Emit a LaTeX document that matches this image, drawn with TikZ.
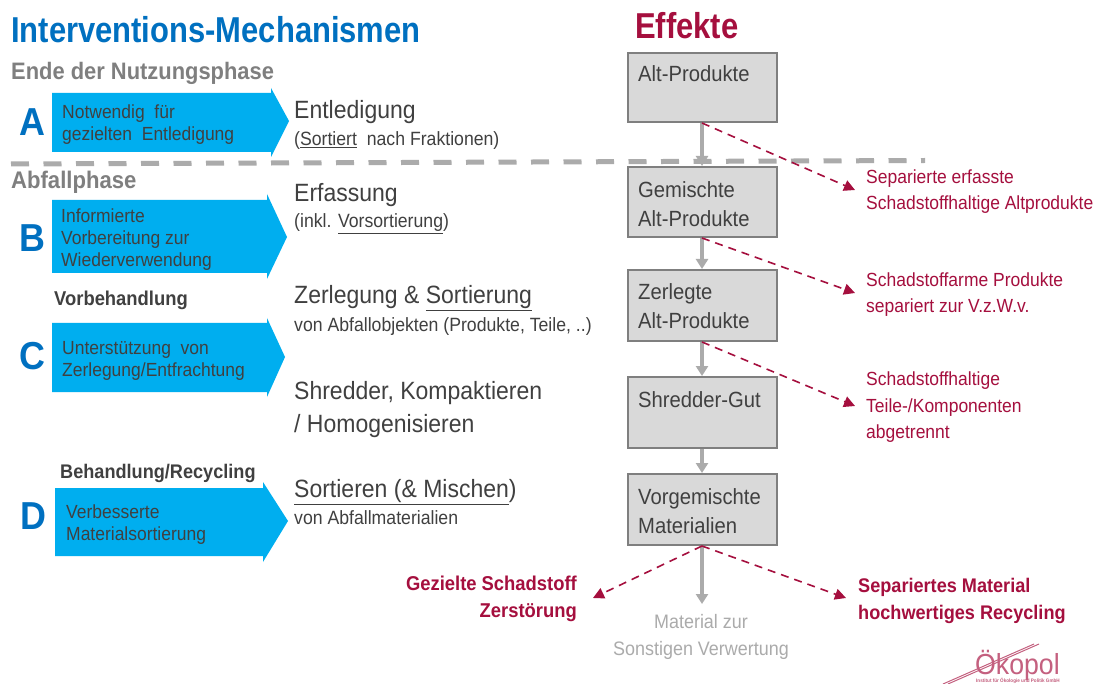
\documentclass[tikz,border=0pt]{standalone}
\usepackage{fontspec}
\setmainfont[FakeStretch=0.92]{Liberation Sans}
\newfontfamily\ttlfont[FakeStretch=0.86]{Liberation Sans}
\usetikzlibrary{arrows.meta}
\definecolor{cblue}{HTML}{00AEEF}
\definecolor{tblue}{HTML}{0070C0}
\definecolor{wine}{HTML}{A50F3E}
\definecolor{dtext}{HTML}{404040}
\definecolor{gtext}{HTML}{7F7F7F}
\definecolor{boxfill}{HTML}{D9D9D9}
\definecolor{boxline}{HTML}{7F7F7F}
\definecolor{flow}{HTML}{ABABAB}
\definecolor{logoc}{HTML}{C4607F}
\newcommand{\fs}[2]{\fontsize{#1}{#2}\selectfont}
\tikzset{
 x=1pt,y=-1pt,
 lbl/.style={inner sep=0pt,anchor=west,align=left,text=dtext},
 boxn/.style={draw=boxline,line width=2pt,fill=boxfill,minimum width=149pt,minimum height=#1,inner sep=0pt},
 boxt/.style={lbl,font=\fs{22}{29}},
 big/.style={lbl,font=\fs{25}{33}},
 sm/.style={lbl,font=\fs{19.2}{22}},
 arrt/.style={lbl,font=\fs{19}{22}},
 letter/.style={inner sep=0pt,text=tblue,font=\fs{39}{39}\bfseries},
 red/.style={lbl,font=\fs{19}{26.5},text=wine},
 flowar/.style={draw=flow,line width=3.6pt,-{Triangle[length=10pt,width=12pt]}},
 effar/.style={draw=wine,line width=1.6pt,dash pattern=on 8pt off 6pt,-{Triangle[length=11pt,width=11pt]}},
 ar/.style={fill=cblue,draw=none},
}
\newcommand{\ul}[1]{\underline{#1}}
\begin{document}
\begin{tikzpicture}
\useasboundingbox (0,0) rectangle (1097,684);
\fill[white] (0,0) rectangle (1097,684);
% titles
\node[lbl,text=tblue,font=\ttlfont\fs{36}{36}\bfseries] (title) at (11,30) {Interventions-Mechanismen};
\node[lbl,text=wine,font=\ttlfont\fs{36}{36}\bfseries] (eff) at (635,26) {Effekte};
\node[lbl,text=gtext,font=\fs{23.8}{24}\bfseries] (ph1) at (11,73.5) {Ende der Nutzungsphase};
\node[lbl,text=gtext,font=\fs{24}{24}\bfseries] (ph2) at (11,182) {Abfallphase};
% arrows
\fill[ar] (52,93)--(271,93)--(271,88)--(289,121)--(271,157)--(271,152)--(52,152)--cycle;
\fill[ar] (52,200)--(267,200)--(267,194)--(287,237)--(267,279)--(267,273)--(52,273)--cycle;
\fill[ar] (52,323)--(267,323)--(267,318)--(285,357)--(267,397)--(267,392)--(52,392)--cycle;
\fill[ar] (55,488)--(263,488)--(263,482)--(288,521)--(263,562)--(263,556)--(55,556)--cycle;
\node[letter] (la) at (32.5,122) {A};
\node[letter] (lb) at (32,238) {B};
\node[letter] (lc) at (32,356) {C};
\node[letter] (ld) at (33,516) {D};
\node[arrt] (ta) at (62,125) {Notwendig\ \ für\\gezielten\ \ Entledigung};
\node[arrt] (tb) at (61,240) {Informierte\\Vorbereitung zur\\Wiederverwendung};
\node[arrt] (tc) at (62,361) {Unterstützung\ \ von\\Zerlegung/Entfrachtung};
\node[arrt] (td) at (66,525) {Verbesserte\\Materialsortierung};
\node[lbl,font=\fs{20}{20}\bfseries] (vb) at (54,300) {Vorbehandlung};
\node[lbl,font=\fs{19.7}{20}\bfseries] (bh) at (60,473) {Behandlung/Recycling};
% middle
\node[big] (m1) at (294,112) {Entledigung};
\node[sm] (m1b) at (294,141) {(\ul{Sortiert}\ \ nach Fraktionen)};
\node[big] (m2) at (294,195) {Erfassung};
\node[sm] (m2b) at (294,224) {(inkl. \ul{Vorsortierung})};
\node[big] (m3) at (294,298) {Zerlegung \& \ul{Sortierung}};
\node[sm] (m3b) at (294,327) {von Abfallobjekten (Produkte, Teile, ..)};
\node[big] (m4) at (294,410) {Shredder, Kompaktieren\\/ Homogenisieren};
\node[big] (m5) at (294,492) {\ul{Sortieren (\& Mischen})};
\node[sm] (m5b) at (294,518) {von Abfallmaterialien};
% boxes
\node[boxn=69pt] (b1) at (702,87.5) {};
\node[boxn=70pt] (b2) at (702,202) {};
\node[boxn=71pt] (b3) at (702,305.5) {};
\node[boxn=71pt] (b4) at (702,412.5) {};
\node[boxn=71pt] (b5) at (702,509.5) {};
\node[boxt] (t1) at (638,74) {Alt-Produkte};
\node[boxt] (t2) at (638,204.5) {Gemischte\\Alt-Produkte};
\node[boxt] (t3) at (638,306.5) {Zerlegte\\Alt-Produkte};
\node[boxt] (t4) at (638,400) {Shredder-Gut};
\node[boxt] (t5) at (638,511) {Vorgemischte\\Materialien};
% dashed separator
\coordinate (s1) at (11,164);
\coordinate (s2) at (925,160.5);
\draw[draw=flow,line width=5pt,dash pattern=on 18pt off 14.5pt] (s1)--(s2);
% flow
\draw[flowar] (b1.south)--(b2.north);
\draw[flowar] (b2.south)--(b3.north);
\draw[flowar] (b3.south)--(b4.north);
\draw[flowar] (b4.south)--(b5.north);
\coordinate (e6) at (702,604);
\draw[flowar] (b5.south)--(e6);
% effect labels
\node[red] (r1) at (866,191.5) {Separierte erfasste\\Schadstoffhaltige Altprodukte};
\node[red] (r2) at (866,294.5) {Schadstoffarme Produkte\\separiert zur V.z.W.v.};
\node[red] (r3) at (866,407.5) {Schadstoffhaltige\\Teile-/Komponenten\\abgetrennt};
\coordinate (a1) at (855,190);
\coordinate (a2) at (855,293);
\coordinate (a3) at (855,406);
\coordinate (a4) at (593,598);
\coordinate (a5) at (846,598);
\draw[effar] (b1.south)--(a1);
\draw[effar] (b2.south)--(a2);
\draw[effar] (b3.south)--(a3);
\draw[effar] (b5.south)--(a4);
\draw[effar] (b5.south)--(a5);
\node[inner sep=0pt,align=right,anchor=east,text=wine,font=\fs{20}{27}\bfseries] (r4) at (577,599) {Gezielte Schadstoff\\Zerstörung};
\node[lbl,text=wine,font=\fs{19.7}{27}\bfseries] (r5) at (858,601) {Separiertes Material\\hochwertiges Recycling};
\node[inner sep=0pt,align=center,text=flow,font=\fs{19.5}{27}] (r6) at (701,637) {Material zur\\Sonstigen Verwertung};
% logo
\draw[logoc,line width=1pt] (943,684)--(1034,644);
\draw[logoc,line width=1pt] (948,684)--(1039,644);
\node[inner sep=0pt,anchor=west,text=logoc,font=\fs{29}{29}] (lg) at (975,665) {Ökopol};
\node[inner sep=0pt,anchor=west,text=logoc,font=\fs{5}{5}\bfseries] (lg2) at (976,681) {Institut für Ökologie und Politik GmbH};
\end{tikzpicture}
\end{document}
